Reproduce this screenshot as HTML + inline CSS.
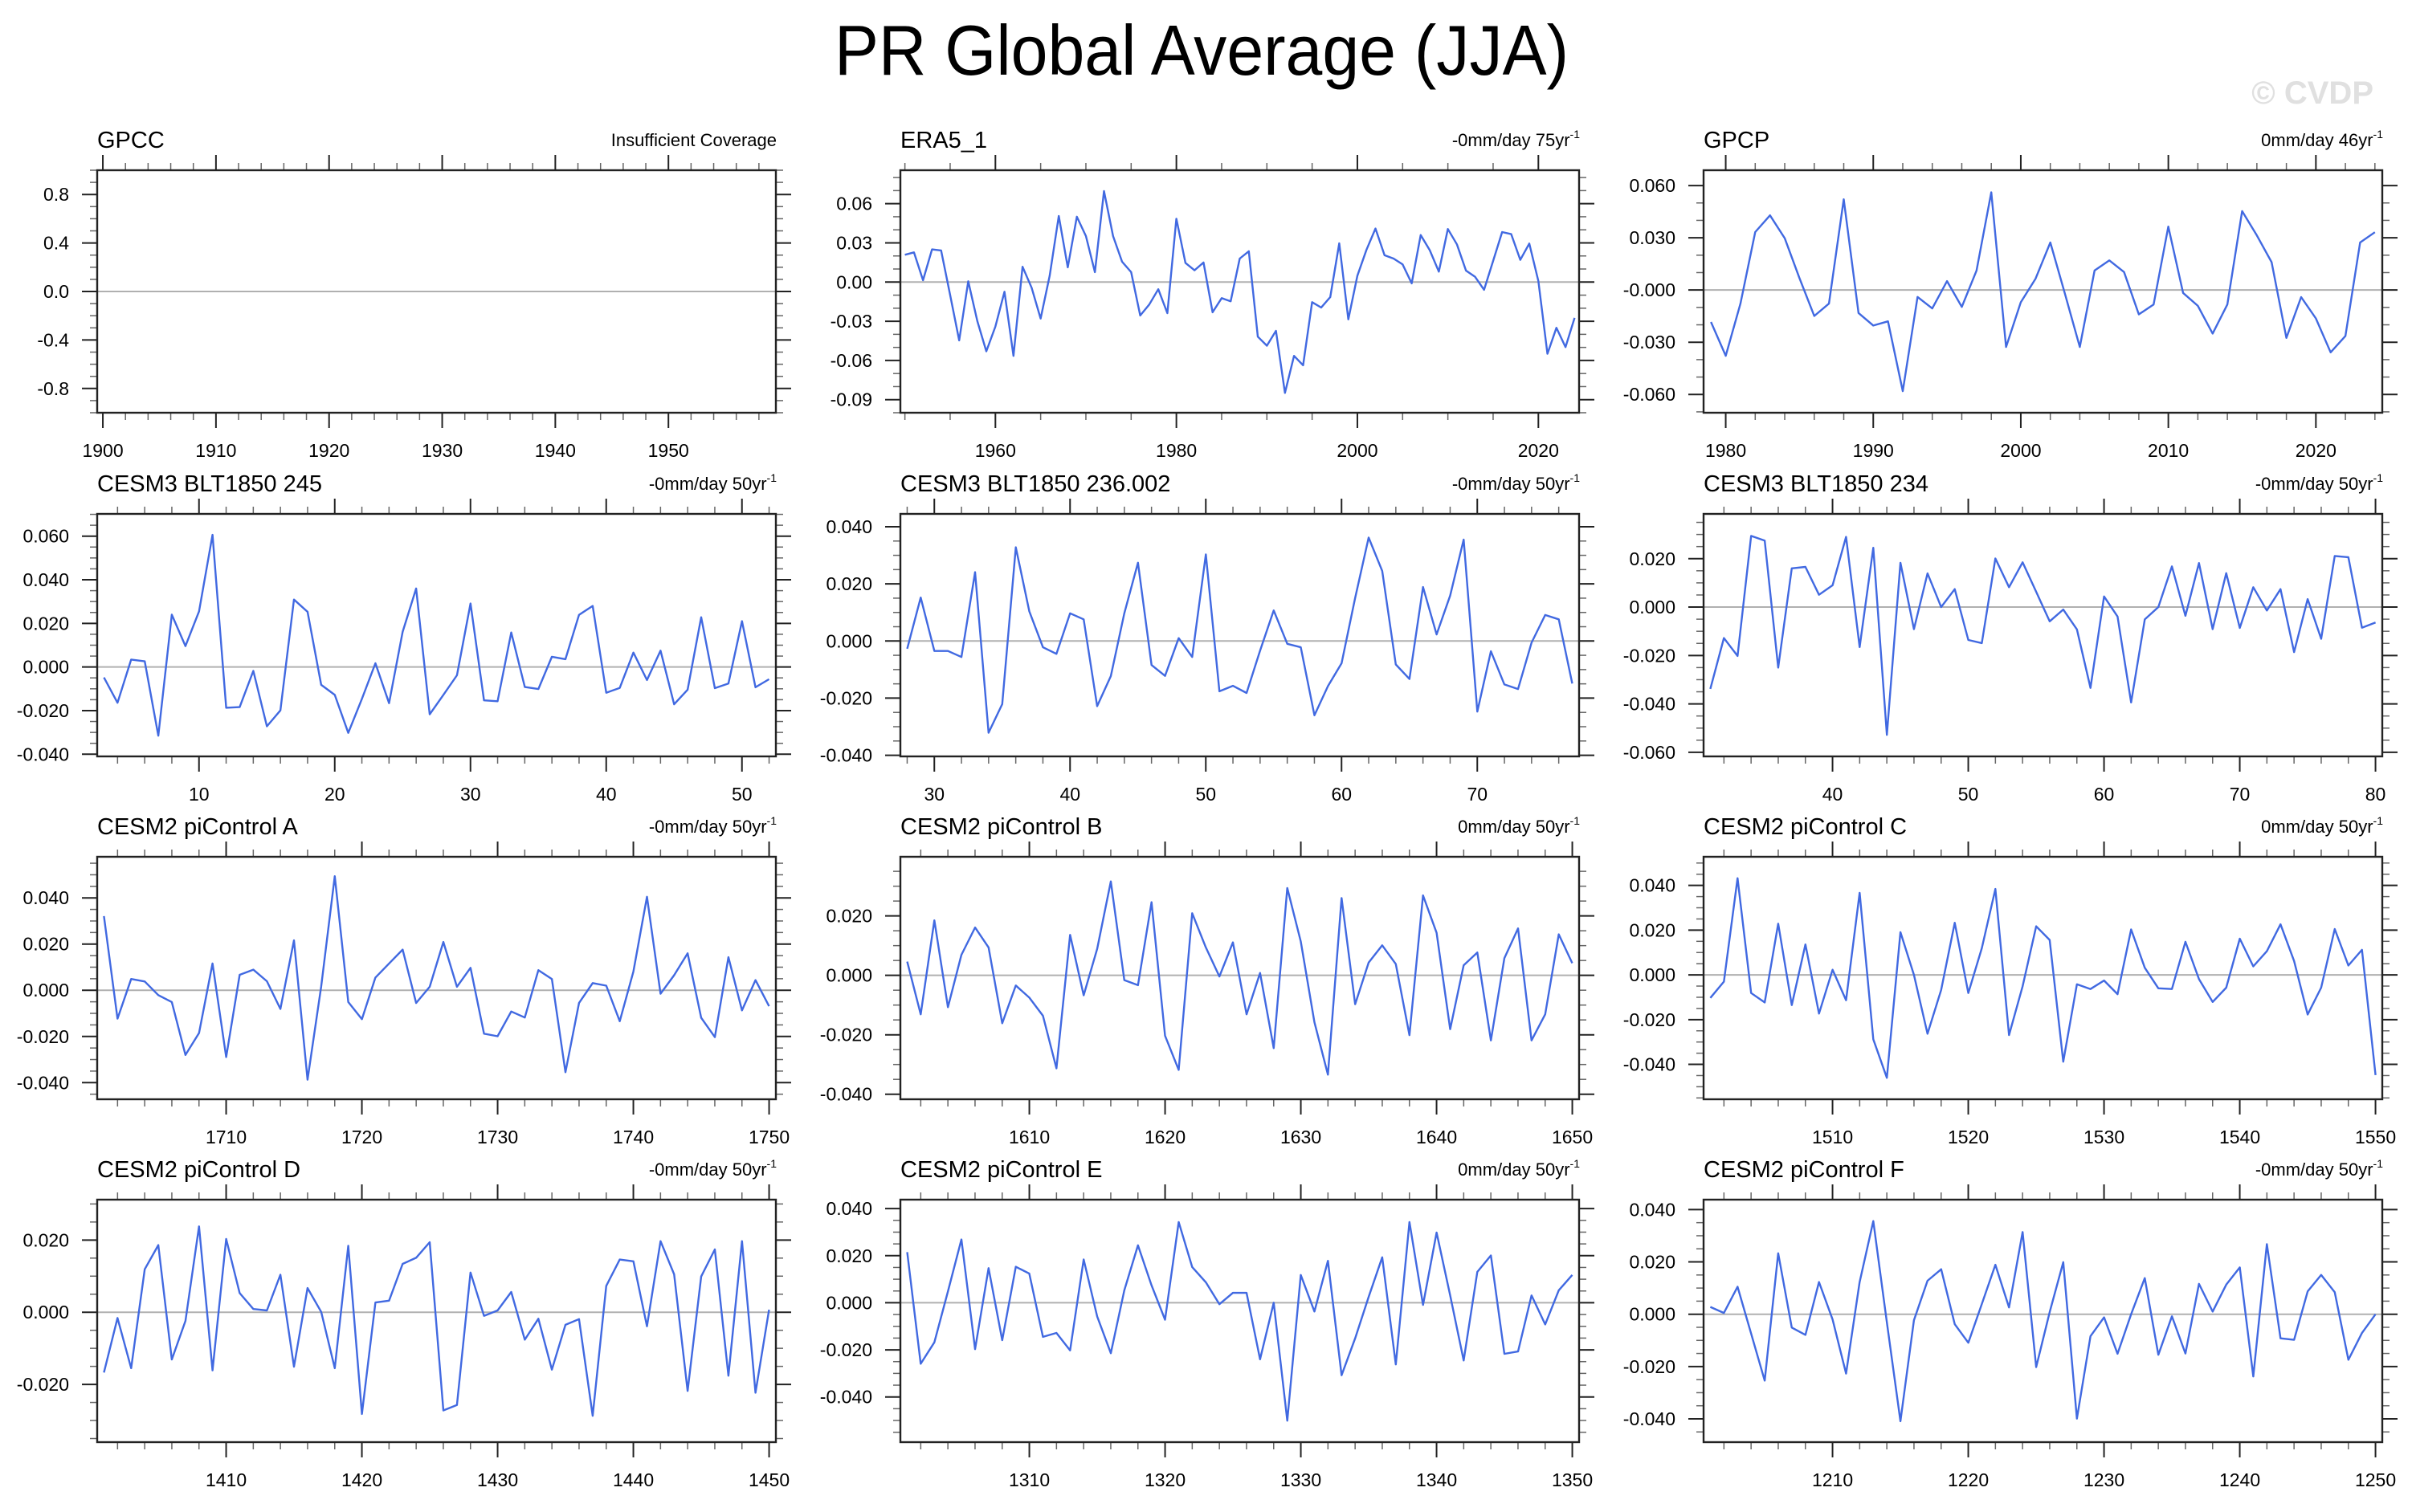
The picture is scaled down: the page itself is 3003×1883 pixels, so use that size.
<!DOCTYPE html>
<html><head><meta charset="utf-8"><title>PR Global Average (JJA)</title>
<style>
html,body{margin:0;padding:0;background:#fff;}
svg{display:block;font-family:"Liberation Sans",Arial,sans-serif;}
</style></head>
<body>
<svg id="fig" xmlns="http://www.w3.org/2000/svg" width="3003" height="1883" viewBox="0 0 3003 1883">
<rect width="3003" height="1883" fill="#fff"/>
<text x="1496" y="93" font-size="88" text-anchor="middle" textLength="914" lengthAdjust="spacingAndGlyphs" fill="#000">PR Global Average (JJA)</text>
<text x="2955" y="129" font-size="40" font-weight="bold" text-anchor="end" fill="#e0e0e0">© CVDP</text>
</svg>
<script>
// ---------- data ----------
const gpccValues = [];
const era5StartYear = 1950;
const era5Values = [0.0209,0.0227,0.0014,0.025,0.0242,-0.010,-0.0446,0.0006,-0.0299,-0.053,-0.034,-0.0074,-0.0565,0.0117,-0.0043,-0.0279,0.0049,0.0506,0.0113,0.05,0.0352,0.0076,0.0696,0.0352,0.0156,0.0076,-0.0256,-0.0172,-0.0055,-0.0238,0.0485,0.0147,0.009,0.015,-0.0231,-0.0123,-0.0147,0.018,0.0236,-0.0418,-0.0487,-0.0373,-0.0848,-0.0565,-0.0637,-0.0154,-0.0195,-0.0115,0.0297,-0.0285,0.0049,0.0246,0.041,0.0205,0.018,0.0135,-0.001,0.036,0.0244,0.008,0.0406,0.0289,0.0088,0.0041,-0.0059,0.0162,0.0383,0.0367,0.017,0.0295,0.0008,-0.0549,-0.035,-0.0498,-0.0274];
const gpcpStartYear = 1979;
const gpcpValues = [-0.0184,-0.0378,-0.0078,0.0333,0.0429,0.0298,0.0068,-0.0149,-0.0078,0.0521,-0.0132,-0.0204,-0.018,-0.0581,-0.004,-0.0106,0.0051,-0.0097,0.0111,0.0561,-0.0327,-0.0071,0.0065,0.0273,-0.0025,-0.0327,0.0112,0.017,0.0103,-0.014,-0.0083,0.0364,-0.0017,-0.0091,-0.025,-0.0083,0.0453,0.0313,0.016,-0.0275,-0.0041,-0.0163,-0.0358,-0.0264,0.0273,0.0332];
const blt245StartYear = 3;
const blt245Values = [-0.0048,-0.0164,0.0034,0.0026,-0.0315,0.024,0.0096,0.0255,0.0606,-0.0187,-0.0184,-0.0018,-0.0272,-0.0199,0.0309,0.0253,-0.0082,-0.0128,-0.0302,-0.0146,0.0017,-0.0166,0.0161,0.036,-0.0217,-0.0128,-0.0038,0.0291,-0.0153,-0.0157,0.0158,-0.0092,-0.0101,0.0047,0.0036,0.0239,0.028,-0.0118,-0.0096,0.0066,-0.006,0.0075,-0.0171,-0.0104,0.0228,-0.0097,-0.0076,0.021,-0.0093,-0.0056];
const blt236StartYear = 28;
const blt236Values = [-0.0027,0.0152,-0.0035,-0.0035,-0.0056,0.0241,-0.0321,-0.0221,0.0328,0.0104,-0.0022,-0.0045,0.0097,0.0076,-0.0228,-0.0123,0.0097,0.0274,-0.0084,-0.0122,0.001,-0.0056,0.0303,-0.0176,-0.0157,-0.0182,-0.0034,0.0107,-0.001,-0.0022,-0.026,-0.0158,-0.0078,0.0151,0.0362,0.0245,-0.0082,-0.0133,0.0189,0.0023,0.0159,0.0355,-0.0247,-0.0036,-0.0152,-0.0168,-0.0006,0.0091,0.0076,-0.0149];
const blt234StartYear = 31;
const blt234Values = [-0.0338,-0.0128,-0.0202,0.0294,0.0275,-0.025,0.016,0.0166,0.0051,0.009,0.029,-0.0165,0.0245,-0.0528,0.0183,-0.0091,0.0139,0.0,0.0074,-0.0136,-0.0149,0.0201,0.0082,0.0185,0.0063,-0.0059,-0.001,-0.0092,-0.0334,0.0044,-0.0039,-0.0394,-0.0051,0.0,0.0168,-0.0036,0.0182,-0.0091,0.014,-0.0086,0.0082,-0.0014,0.0074,-0.0186,0.0033,-0.0131,0.0211,0.0206,-0.0085,-0.0064];
const ctrlAStartYear = 1701;
const ctrlAValues = [0.0321,-0.0123,0.0049,0.0038,-0.0021,-0.0051,-0.028,-0.0185,0.0116,-0.0289,0.0067,0.0089,0.0039,-0.0081,0.0216,-0.0387,0.0017,0.0494,-0.0051,-0.0125,0.0055,0.0116,0.0176,-0.0055,0.0015,0.0209,0.0015,0.0097,-0.0188,-0.0199,-0.0092,-0.0118,0.0087,0.0049,-0.0355,-0.0055,0.0031,0.002,-0.0134,0.0081,0.0405,-0.0015,0.0065,0.016,-0.0119,-0.0203,0.0143,-0.0087,0.0044,-0.0069];
const ctrlBStartYear = 1601;
const ctrlBValues = [0.0046,-0.0131,0.0185,-0.0107,0.0069,0.0161,0.0094,-0.0161,-0.0034,-0.0075,-0.0136,-0.0313,0.0136,-0.0067,0.0089,0.0316,-0.0016,-0.0033,0.0246,-0.0203,-0.0318,0.0209,0.0094,-0.0004,0.0111,-0.0131,0.0008,-0.0245,0.0294,0.0114,-0.0158,-0.0334,0.026,-0.0097,0.0043,0.0101,0.0038,-0.0201,0.0269,0.0143,-0.0181,0.0034,0.0077,-0.0219,0.0058,0.0158,-0.0219,-0.0131,0.0138,0.0041];
const ctrlCStartYear = 1501;
const ctrlCValues = [-0.0103,-0.003,0.0432,-0.0081,-0.0123,0.0229,-0.0135,0.0136,-0.0173,0.0023,-0.0113,0.0367,-0.0288,-0.046,0.0191,0.0,-0.0263,-0.0067,0.0233,-0.0081,0.0119,0.0384,-0.0269,-0.0051,0.0217,0.0156,-0.0388,-0.0042,-0.0063,-0.0025,-0.0086,0.0203,0.0032,-0.006,-0.0063,0.0148,-0.0019,-0.0121,-0.0057,0.0162,0.0038,0.0106,0.0226,0.0062,-0.0177,-0.0057,0.0205,0.0042,0.0112,-0.0448];
const ctrlDStartYear = 1401;
const ctrlDValues = [-0.0167,-0.0016,-0.0155,0.0119,0.0186,-0.0131,-0.0024,0.0238,-0.0161,0.0203,0.0053,0.0009,0.0005,0.0104,-0.0151,0.0067,0.0001,-0.0155,0.0184,-0.0282,0.0027,0.0032,0.0134,0.0151,0.0194,-0.0272,-0.0257,0.011,-0.001,0.0005,0.0056,-0.0076,-0.0018,-0.0159,-0.0035,-0.0019,-0.0287,0.0073,0.0146,0.0141,-0.0039,0.0197,0.0105,-0.0218,0.0099,0.0174,-0.0176,0.0197,-0.0223,0.0007];
const ctrlEStartYear = 1301;
const ctrlEValues = [0.0215,-0.0259,-0.0168,0.0048,0.0269,-0.0197,0.0147,-0.0159,0.0153,0.0124,-0.0145,-0.0128,-0.0202,0.0184,-0.0058,-0.0214,0.0053,0.0244,0.0074,-0.0072,0.0343,0.0152,0.0087,-0.0006,0.0042,0.0042,-0.024,0.0,-0.0501,0.0118,-0.0037,0.0178,-0.0308,-0.0151,0.0025,0.0193,-0.0262,0.0343,-0.0009,0.0298,0.0031,-0.0245,0.0131,0.0201,-0.0217,-0.0207,0.0031,-0.0092,0.0053,0.0118];
const ctrlFStartYear = 1201;
const ctrlFValues = [0.0028,0.0005,0.0105,-0.0074,-0.0254,0.0233,-0.0051,-0.0079,0.0123,-0.002,-0.0227,0.0123,0.0356,-0.0031,-0.0409,-0.0023,0.0128,0.0172,-0.0038,-0.0109,0.0039,0.0189,0.0026,0.0314,-0.0202,0.0008,0.0199,-0.0399,-0.0084,-0.0012,-0.0151,0.0,0.0138,-0.0155,-0.0008,-0.015,0.0116,0.001,0.0113,0.0179,-0.0238,0.0268,-0.0092,-0.0098,0.0087,0.015,0.0084,-0.0174,-0.0072,0.0];

// tick labels
const gpccYTicks = ["0.8","0.4","0.0","-0.4","-0.8"];
const era5YTicks = ["0.06","0.03","0.00","-0.03","-0.06","-0.09"];
const gpcpYTicks = ["0.060","0.030","-0.000","-0.030","-0.060"];
const blt245YTicks = ["0.060","0.040","0.020","0.000","-0.020","-0.040"];
const blt236YTicks = ["0.040","0.020","0.000","-0.020","-0.040"];
const blt234YTicks = ["0.020","0.000","-0.020","-0.040","-0.060"];
const ctrlAYTicks = ["0.040","0.020","0.000","-0.020","-0.040"];
const ctrlBYTicks = ["0.020","0.000","-0.020","-0.040"];
const ctrlCYTicks = ["0.040","0.020","0.000","-0.020","-0.040"];
const ctrlDYTicks = ["0.020","0.000","-0.020"];
const ctrlEYTicks = ["0.040","0.020","0.000","-0.020","-0.040"];
const ctrlFYTicks = ["0.040","0.020","0.000","-0.020","-0.040"];
const gpccXTicks = [1900,1910,1920,1930,1940,1950];
const era5XTicks = [1960,1980,2000,2020];
const gpcpXTicks = [1980,1990,2000,2010,2020];
const blt245XTicks = [10,20,30,40,50];
const blt236XTicks = [30,40,50,60,70];
const blt234XTicks = [40,50,60,70,80];
const ctrlAXTicks = [1710,1720,1730,1740,1750];
const ctrlBXTicks = [1610,1620,1630,1640,1650];
const ctrlCXTicks = [1510,1520,1530,1540,1550];
const ctrlDXTicks = [1410,1420,1430,1440,1450];
const ctrlEXTicks = [1310,1320,1330,1340,1350];
const ctrlFXTicks = [1210,1220,1230,1240,1250];

// ---------- layout ----------
const NS = 'http://www.w3.org/2000/svg';
const svg = document.getElementById('fig');
const colX = [121, 1121, 2121];
const rowY = [212, 640, 1067, 1494];
const PW = 845, PH = 302;

function mk(tag, attrs, parent) {
  const el = document.createElementNS(NS, tag);
  for (const k in attrs) el.setAttribute(k, attrs[k]);
  (parent || svg).appendChild(el);
  return el;
}

const panels = [
  {id:'gpcc', col:0,row:0,title:'GPCC',sub:'Insufficient Coverage',sup:'',start:1900,vals:gpccValues,x0:1899.5,x1:1959.5,xMaj:10,xMin:2,xT:gpccXTicks,y0:-1,y1:1,yMaj:0.4,yMin:0.1,yT:gpccYTicks},
  {id:'era5', col:1,row:0,title:'ERA5_1',sub:'-0mm/day 75yr',sup:'-1',start:era5StartYear,vals:era5Values,x0:1949.5,x1:2024.5,xMaj:20,xMin:5,xT:era5XTicks,y0:-0.1,y1:0.0856,yMaj:0.03,yMin:0.01,yT:era5YTicks},
  {id:'gpcp', col:2,row:0,title:'GPCP',sub:'0mm/day 46yr',sup:'-1',start:gpcpStartYear,vals:gpcpValues,x0:1978.5,x1:2024.5,xMaj:10,xMin:2,xT:gpcpXTicks,y0:-0.0705,y1:0.0688,yMaj:0.03,yMin:0.01,yT:gpcpYTicks},
  {id:'cesm3-blt1850-245', col:0,row:1,title:'CESM3 BLT1850 245',sub:'-0mm/day 50yr',sup:'-1',start:blt245StartYear,vals:blt245Values,x0:2.5,x1:52.5,xMaj:10,xMin:2,xT:blt245XTicks,y0:-0.041,y1:0.0702,yMaj:0.02,yMin:0.005,yT:blt245YTicks},
  {id:'cesm3-blt1850-236', col:1,row:1,title:'CESM3 BLT1850 236.002',sub:'-0mm/day 50yr',sup:'-1',start:blt236StartYear,vals:blt236Values,x0:27.5,x1:77.5,xMaj:10,xMin:2,xT:blt236XTicks,y0:-0.0404,y1:0.0445,yMaj:0.02,yMin:0.005,yT:blt236YTicks},
  {id:'cesm3-blt1850-234', col:2,row:1,title:'CESM3 BLT1850 234',sub:'-0mm/day 50yr',sup:'-1',start:blt234StartYear,vals:blt234Values,x0:30.5,x1:80.5,xMaj:10,xMin:2,xT:blt234XTicks,y0:-0.0617,y1:0.0385,yMaj:0.02,yMin:0.005,yT:blt234YTicks},
  {id:'cesm2-picontrol-a', col:0,row:2,title:'CESM2 piControl A',sub:'-0mm/day 50yr',sup:'-1',start:ctrlAStartYear,vals:ctrlAValues,x0:1700.5,x1:1750.5,xMaj:10,xMin:2,xT:ctrlAXTicks,y0:-0.0472,y1:0.0578,yMaj:0.02,yMin:0.005,yT:ctrlAYTicks},
  {id:'cesm2-picontrol-b', col:1,row:2,title:'CESM2 piControl B',sub:'0mm/day 50yr',sup:'-1',start:ctrlBStartYear,vals:ctrlBValues,x0:1600.5,x1:1650.5,xMaj:10,xMin:2,xT:ctrlBXTicks,y0:-0.0417,y1:0.0399,yMaj:0.02,yMin:0.005,yT:ctrlBYTicks},
  {id:'cesm2-picontrol-c', col:2,row:2,title:'CESM2 piControl C',sub:'0mm/day 50yr',sup:'-1',start:ctrlCStartYear,vals:ctrlCValues,x0:1500.5,x1:1550.5,xMaj:10,xMin:2,xT:ctrlCXTicks,y0:-0.0556,y1:0.0528,yMaj:0.02,yMin:0.005,yT:ctrlCYTicks},
  {id:'cesm2-picontrol-d', col:0,row:3,title:'CESM2 piControl D',sub:'-0mm/day 50yr',sup:'-1',start:ctrlDStartYear,vals:ctrlDValues,x0:1400.5,x1:1450.5,xMaj:10,xMin:2,xT:ctrlDXTicks,y0:-0.036,y1:0.0312,yMaj:0.02,yMin:0.005,yT:ctrlDYTicks},
  {id:'cesm2-picontrol-e', col:1,row:3,title:'CESM2 piControl E',sub:'0mm/day 50yr',sup:'-1',start:ctrlEStartYear,vals:ctrlEValues,x0:1300.5,x1:1350.5,xMaj:10,xMin:2,xT:ctrlEXTicks,y0:-0.0592,y1:0.0438,yMaj:0.02,yMin:0.005,yT:ctrlEYTicks},
  {id:'cesm2-picontrol-f', col:2,row:3,title:'CESM2 piControl F',sub:'-0mm/day 50yr',sup:'-1',start:ctrlFStartYear,vals:ctrlFValues,x0:1200.5,x1:1250.5,xMaj:10,xMin:2,xT:ctrlFXTicks,y0:-0.0489,y1:0.0438,yMaj:0.02,yMin:0.005,yT:ctrlFYTicks}
];

panels.forEach(p => {
  const L = colX[p.col], T = rowY[p.row], R = L + PW, B = T + PH;
  const xs = v => L + (v - p.x0) / (p.x1 - p.x0) * PW;
  const ys = v => B - (v - p.y0) / (p.y1 - p.y0) * PH;
  const g = mk('g', {});
  
  

  const z = mk('line', {x1:L, x2:R, y1:ys(0), y2:ys(0), stroke:'#b0b0b0', 'stroke-width':2}, g);
  
  

  const eps = 1e-6;
  const xStart = Math.ceil((p.x0 - eps) / p.xMin) * p.xMin;
  for (let v = xStart; v <= p.x1 + eps; v += p.xMin) {
    const isMaj = Math.abs(v / p.xMaj - Math.round(v / p.xMaj)) < 1e-6;
    const len = isMaj ? 19 : 9;
    const x = xs(v);
    const t1 = mk('line', {x1:x, x2:x, y1:B, y2:B + len, stroke:isMaj ? '#222' : '#666', 'stroke-width':isMaj ? 2 : 1.5}, g);
    
    
    const t2 = mk('line', {x1:x, x2:x, y1:T, y2:T - len, stroke:isMaj ? '#222' : '#666', 'stroke-width':isMaj ? 2 : 1.5}, g);
    
    
  }
  p.xT.forEach(v => {
    const t = mk('text', {x:xs(v), y:B + 55, 'font-size':23, 'text-anchor':'middle', fill:'#000'}, g);
    t.textContent = String(v);
    
    
  });

  const yStart = Math.ceil((p.y0 - eps) / p.yMin) * p.yMin;
  for (let k = 0; ; k++) {
    const v = yStart + k * p.yMin;
    if (v > p.y1 + eps) break;
    const isMaj = Math.abs(v / p.yMaj - Math.round(v / p.yMaj)) < 1e-4;
    const len = isMaj ? 19 : 9;
    const y = ys(v);
    const t1 = mk('line', {x1:L, x2:L - len, y1:y, y2:y, stroke:isMaj ? '#222' : '#666', 'stroke-width':isMaj ? 2 : 1.5}, g);
    
    
    const t2 = mk('line', {x1:R, x2:R + len, y1:y, y2:y, stroke:isMaj ? '#222' : '#666', 'stroke-width':isMaj ? 2 : 1.5}, g);
    
    
  }
  p.yT.forEach(s => {
    const v = parseFloat(s);
    const t = mk('text', {x:L - 35, y:ys(v) + 8, 'font-size':23, 'text-anchor':'end', fill:'#000'}, g);
    t.textContent = s;
    
    
  });

  if (p.vals.length) {
    const pts = p.vals.map((v, i) => xs(p.start + i).toFixed(1) + ',' + ys(v).toFixed(1)).join(' ');
    const pl = mk('polyline', {points:pts, fill:'none', stroke:'#4169e1', 'stroke-width':2.4, 'stroke-linejoin':'round'}, g);
    
    
  }

  const fr = mk('rect', {x:L, y:T, width:PW, height:PH, fill:'none', stroke:'#222', 'stroke-width':2.4}, g);
  
  

  const tt = mk('text', {x:L, y:T - 28, 'font-size':29, fill:'#000'}, g);
  tt.textContent = p.title;
  
  
  const st = mk('text', {x:R + 1, y:T - 30, 'font-size':22, 'text-anchor':'end', fill:'#000'}, g);
  
  
  const s1 = mk('tspan', {}, st);
  s1.textContent = p.sub;
  if (p.sup) {
    const s2 = mk('tspan', {dy:-10, 'font-size':14}, st);
    s2.textContent = p.sup;
  }
});
</script>
</body></html>
